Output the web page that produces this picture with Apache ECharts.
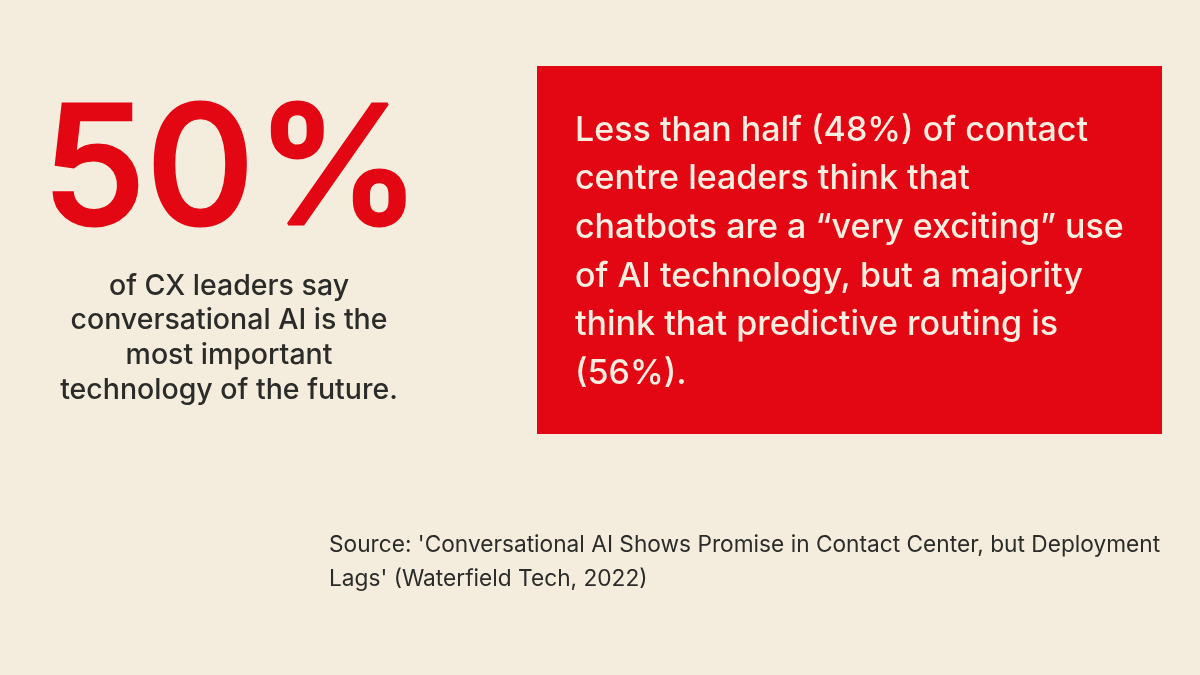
<!DOCTYPE html>
<html>
<head>
<meta charset="utf-8">
<style>html,body{margin:0;padding:0;background:#f4ecdc}#main{width:1200px;height:675px}</style>
<script src="https://cdn.jsdelivr.net/npm/echarts@6/dist/echarts.min.js"></script>
</head>
<body>
<div id="main"></div>
<script>
var headline = '50%';
var captionLines = ['of CX leaders say', 'conversational AI is the', 'most important', 'technology of the future.'];
var boxLines = ['Less than half (48%) of contact', 'centre leaders think that', 'chatbots are a “very exciting” use', 'of AI technology, but a majority', 'think that predictive routing is', '(56%).'];
var sourceLines = ["Source: 'Conversational AI Shows Promise in Contact Center, but Deployment", "Lags' (Waterfield Tech, 2022)"];

var myChart = echarts.init(document.getElementById('main'), null, {renderer: 'canvas'});
var fontName = 'Inter';
var elements = [];

elements.push({
  type: 'rect',
  shape: {x: 537, y: 66, width: 625, height: 368},
  style: {fill: '#e30613'}
});
// Inter is lighter than the reference headline, a thin stroke thickens it
elements.push({
  type: 'text',
  x: 232, y: 174,
  scaleX: 1.02,
  style: {text: headline, fill: '#e30613', stroke: '#e30613', lineWidth: 3, font: '500 165px ' + fontName, textAlign: 'center', textVerticalAlign: 'middle'}
});
captionLines.forEach(function (line, i) {
  elements.push({
    type: 'text',
    x: 229, y: 286 + i * 34.7,
    style: {text: line, fill: '#2b2b29', font: '500 28.5px ' + fontName, textAlign: 'center', textVerticalAlign: 'middle'}
  });
});
boxLines.forEach(function (line, i) {
  elements.push({
    type: 'text',
    x: 575, y: 130.5 + i * 48.6,
    style: {text: line, fill: '#f8eee0', font: '500 34px ' + fontName, textAlign: 'left', textVerticalAlign: 'middle'}
  });
});
sourceLines.forEach(function (line, i) {
  elements.push({
    type: 'text',
    x: 329, y: 545 + i * 34,
    style: {text: line, fill: '#2b2b29', font: '400 22.7px ' + fontName, textAlign: 'left', textVerticalAlign: 'middle'}
  });
});

var option = {
  backgroundColor: '#f4ecdc',
  graphic: {elements: elements}
};

myChart.setOption(option);
</script>
</body>
</html>
